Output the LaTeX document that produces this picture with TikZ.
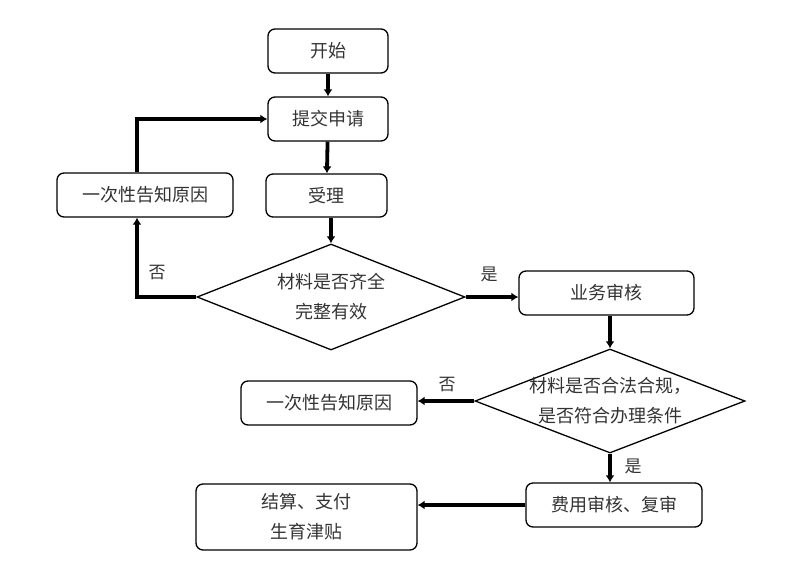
\documentclass[tikz,border=0pt]{standalone}
\usepackage{fontspec}
\setmainfont{Noto Sans CJK SC}
\usetikzlibrary{shapes.geometric}
\usetikzlibrary{arrows.meta}
\tikzset{%
    blk/.style={draw, rounded corners=7pt, line width=1.3pt, align=center,
        font=\fontsize{18}{30}\selectfont, text=black!80, inner sep=0pt},
    dmd/.style={draw, diamond, line width=1.3pt, inner sep=0pt},
    txt/.style={align=center, inner sep=0pt, text=black!80, font=\fontsize{18}{30}\selectfont},
    arr/.style={line width=3.8pt, -{Latex[length=7pt,width=9pt]}},
    lbl/.style={font=\fontsize{17}{18}\selectfont, text=black!80}
}
\begin{document}
\begin{tikzpicture}[x=1pt, y=-1pt]
        \useasboundingbox (0,0) rectangle (800,565);
        \node[blk, minimum width=120pt, minimum height=44pt] (start) at (328,51){开始};
        \node[blk, minimum width=120pt, minimum height=44pt] (submit) at (328,119){提交申请};
        \node[blk, minimum width=121pt, minimum height=43pt] (accept) at (326.5,195.5){受理};
        \node[blk, minimum width=176pt, minimum height=44pt] (notifyA) at (145,195){一次性告知原因};
        \node[dmd, minimum width=268pt, minimum height=106pt] (checkA) at (331,297){};
        \node[txt] (checkAtxt) at (checkA){材料是否齐全\\完整有效};
        \node[blk, minimum width=175pt, minimum height=44pt] (review) at (606.5,293){业务审核};
        \node[dmd, minimum width=270pt, minimum height=104pt] (checkB) at (610,401){};
        \node[txt] (checkBtxt) at (checkB){材料是否合法合规，\\是否符合办理条件};
        \node[blk, minimum width=176pt, minimum height=44pt] (notifyB) at (329,403){一次性告知原因};
        \node[blk, minimum width=176pt, minimum height=44pt] (fee) at (614,505){费用审核、复审};
        \node[blk, minimum width=221pt, minimum height=66pt] (pay) at (306.5,517){结算、支付\\生育津贴};
        \draw[arr] (start) -- (submit);
        \draw[arr] (submit) -- (accept);
        \draw[arr] (checkA.north |- accept.south) -- (checkA.north);
        \draw[arr] (checkA.west) -| ([xshift=-8pt]notifyA.south);
        \draw[arr] ([xshift=-8pt]notifyA.north) |- (submit.west);
        \draw[arr] (checkA.east) -- (checkA.east -| review.west);
        \draw[arr] (checkB.north |- review.south) -- (checkB.north);
        \draw[arr] (checkB.west) -- (checkB.west -| notifyB.east);
        \draw[arr] (checkB.south) -- (checkB.south |- fee.north);
        \draw[arr] (fee.west) -- (fee.west -| pay.east);
        \node[lbl] (noA) at (157,273){否};
        \node[lbl] (yesA) at (489,274){是};
        \node[lbl] (noB) at (447,385){否};
        \node[lbl] (yesB) at (633,466){是};
    \end{tikzpicture}
\end{document}
